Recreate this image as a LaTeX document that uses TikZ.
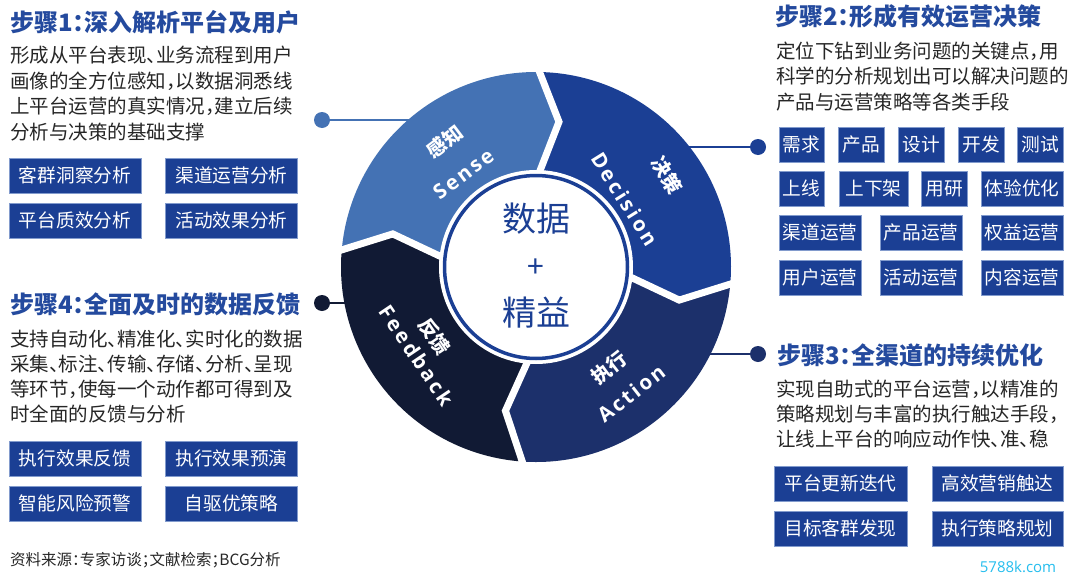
\documentclass[tikz,border=0pt]{standalone}
\usepackage{fontspec}
\setmainfont{Open Sans}
\newfontfamily\cjk{Noto Sans CJK SC}[RawFeature=+halt]
\newfontfamily\cjkfw{Noto Sans CJK SC}
\newfontfamily\ringlat{Open Sans}[LetterSpace=13]
\definecolor{sensec}{RGB}{68,114,180}
\definecolor{decisionc}{RGB}{27,63,148}
\definecolor{actionc}{RGB}{28,48,107}
\definecolor{feedbackc}{RGB}{17,26,52}
\definecolor{titlec}{RGB}{36,74,158}
\definecolor{bodyc}{RGB}{38,38,38}
\definecolor{boxc}{RGB}{27,63,148}
\definecolor{boxedge}{RGB}{130,155,205}
\definecolor{waterc}{RGB}{38,190,238}
\tikzset{
 titletext/.style={anchor=base west, inner sep=0pt, text=titlec, font=\cjk\bfseries\fontsize{24}{24}\selectfont},
 bodytext/.style={anchor=base west, inner sep=0pt, text=bodyc, font=\cjk\fontsize{19.5}{19.5}\selectfont},
 tagbox/.style={fill=boxc, draw=boxedge, line width=0.6pt, text=white, font=\cjk\fontsize{18.7}{18.7}\selectfont, minimum height=35pt, inner sep=0pt},
 dotnode/.style={circle, inner sep=0pt, minimum size=16pt},
 conn/.style={line width=1.8pt},
 ringcn/.style={text=white, font=\cjk\bfseries\fontsize{19.5}{19.5}\selectfont, inner sep=0pt},
 ringen/.style={text=white, font=\ringlat\bfseries\fontsize{20.5}{20.5}\selectfont, inner sep=0pt},
 centertext/.style={text=decisionc, font=\cjkfw\fontsize{34}{34}\selectfont, inner sep=0pt},
 gapline/.style={white, line width=7pt, line join=miter},
}
\begin{document}
\begin{tikzpicture}[x=1pt,y=-1pt]
\fill[white] (0,0) rectangle (1080,581);
\useasboundingbox (0,0) rectangle (1080,581);

% connectors
\node[dotnode, fill=sensec] (d1) at (322,120) {};
\node[dotnode, fill=decisionc] (d2) at (758,147) {};
\node[dotnode, fill=actionc] (d3) at (758,354) {};
\node[dotnode, fill=feedbackc] (d4) at (322,303) {};
\coordinate (e1) at (414,120);
\coordinate (e2) at (686,147);
\coordinate (e3) at (707,354);
\coordinate (e4) at (348,303);
\draw[conn, sensec] (d1) -- (e1);
\draw[conn, decisionc] (d2) -- (e2);
\draw[conn, actionc] (d3) -- (e3);
\draw[conn, feedbackc] (d4) -- (e4);

% ring
\begin{scope}[shift={(536,267)}, yscale=-1]
\fill[sensec] (176:195) arc[start angle=176, end angle=90, radius=195] -- (81:147) -- (90:95) arc[start angle=90, end angle=176, radius=95] -- (167:147) -- cycle;
\fill[decisionc] (90:195) arc[start angle=90, end angle=-4, radius=195] -- (-13:147) -- (-4:95) arc[start angle=-4, end angle=90, radius=95] -- (81:147) -- cycle;
\fill[actionc] (-4:195) arc[start angle=-4, end angle=-93, radius=195] -- (-102:147) -- (-93:95) arc[start angle=-93, end angle=-4, radius=95] -- (-13:147) -- cycle;
\fill[feedbackc] (-93:195) arc[start angle=-93, end angle=-184, radius=195] -- (-193:147) -- (-184:95) arc[start angle=-184, end angle=-93, radius=95] -- (-102:147) -- cycle;
\foreach \b in {90,-4,-93,176} \draw[gapline] (\b:204) -- ({\b-9}:147) -- (\b:86);
\fill[white] (0,0) circle[radius=97];
\draw[decisionc, line width=3.5pt] (0,0) circle[radius=91.5];
\node[ringcn, rotate=37] (senseCN) at (126:155) {感知};
\node[ringen, rotate=37] (senseEN) at (128:118) {Sense};
\node[ringcn, rotate=-58] (decCN) at (35:160) {决策};
\node[ringen, rotate=-58] (decEN) at (37.4:112) {Decision};
\node[ringcn, rotate=38] (actCN) at (-54:124) {执行};
\node[ringen, rotate=38] (actEN) at (-53:158) {Action};
\node[ringcn, rotate=-56] (fbCN) at (-145.5:123) {反馈};
\node[ringen, rotate=-56] (fbEN) at (-143.5:149) {Feedback};
\end{scope}
\node[centertext] (c1) at (536,219) {数据};
\node[centertext, font=\cjkfw\fontsize{30}{30}\selectfont] (c2) at (536,268) {+};
\node[centertext] (c3) at (536,313) {精益};

% step 1
\node[titletext] (t1) at (10,31.2) {步骤1：深入解析平台及用户};
\node[bodytext] (s1a) at (10,62.8) {形成从平台表现、业务流程到用户};
\node[bodytext] (s1b) at (10,88.3) {画像的全方位感知，以数据洞悉线};
\node[bodytext] (s1c) at (10,113.8) {上平台运营的真实情况，建立后续};
\node[bodytext] (s1d) at (10,139.3) {分析与决策的基础支撑};
\node[tagbox, minimum width=132pt] (b11) at (75,175.5) {客群洞察分析};
\node[tagbox, minimum width=132pt] (b12) at (231.5,175.5) {渠道运营分析};
\node[tagbox, minimum width=132pt] (b13) at (75,220.5) {平台质效分析};
\node[tagbox, minimum width=132pt] (b14) at (231.5,220.5) {活动效果分析};

% step 2
\node[titletext] (t2) at (775,25.7) {步骤2：形成有效运营决策};
\node[bodytext] (s2a) at (776,58.3) {定位下钻到业务问题的关键点，用};
\node[bodytext] (s2b) at (776,83.8) {科学的分析规划出可以解决问题的};
\node[bodytext] (s2c) at (776,109.3) {产品与运营策略等各类手段};
\node[tagbox, minimum width=45pt] (b21) at (801.5,144.5) {需求};
\node[tagbox, minimum width=46pt] (b22) at (861,144.5) {产品};
\node[tagbox, minimum width=46pt] (b23) at (921,144.5) {设计};
\node[tagbox, minimum width=46pt] (b24) at (981,144.5) {开发};
\node[tagbox, minimum width=46pt] (b25) at (1040,144.5) {测试};
\node[tagbox, minimum width=45pt] (b26) at (801.5,188.5) {上线};
\node[tagbox, minimum width=69pt] (b27) at (873.5,188.5) {上下架};
\node[tagbox, minimum width=46pt] (b28) at (944,188.5) {用研};
\node[tagbox, minimum width=82pt] (b29) at (1022,188.5) {体验优化};
\node[tagbox, minimum width=82pt] (b2a) at (820,232.5) {渠道运营};
\node[tagbox, minimum width=82pt] (b2b) at (921,232.5) {产品运营};
\node[tagbox, minimum width=82pt] (b2c) at (1022,232.5) {权益运营};
\node[tagbox, minimum width=82pt] (b2d) at (820,277.5) {用户运营};
\node[tagbox, minimum width=82pt] (b2e) at (921,277.5) {活动运营};
\node[tagbox, minimum width=82pt] (b2f) at (1022,277.5) {内容运营};

% step 3
\node[titletext] (t3) at (777,364.7) {步骤3：全渠道的持续优化};
\node[bodytext] (s3a) at (776,396.3) {实现自助式的平台运营，以精准的};
\node[bodytext] (s3b) at (776,421.3) {策略规划与丰富的执行触达手段，};
\node[bodytext] (s3c) at (776,446.3) {让线上平台的响应动作快、准、稳};
\node[tagbox, minimum width=133pt] (b31) at (840.5,483.5) {平台更新迭代};
\node[tagbox, minimum width=131pt] (b32) at (997.5,483.5) {高效营销触达};
\node[tagbox, minimum width=133pt] (b33) at (840.5,528.5) {目标客群发现};
\node[tagbox, minimum width=131pt] (b34) at (997.5,528.5) {执行策略规划};

% step 4
\node[titletext] (t4) at (10,313.7) {步骤4：全面及时的数据反馈};
\node[bodytext] (s4a) at (10,346.3) {支持自动化、精准化、实时化的数据};
\node[bodytext] (s4b) at (10,371.3) {采集、标注、传输、存储、分析、呈现};
\node[bodytext] (s4c) at (10,396.3) {等环节，使每一个动作都可得到及};
\node[bodytext] (s4d) at (10,421.3) {时全面的反馈与分析};
\node[tagbox, minimum width=132pt] (b41) at (75,458.5) {执行效果反馈};
\node[tagbox, minimum width=132pt] (b42) at (231.5,458.5) {执行效果预演};
\node[tagbox, minimum width=132pt] (b43) at (75,503.5) {智能风险预警};
\node[tagbox, minimum width=132pt] (b44) at (231.5,503.5) {自驱优策略};

% source and watermark
\node[bodytext, font=\cjk\fontsize{15.5}{15.5}\selectfont] (src) at (10,565.9) {资料来源：专家访谈；文献检索；BCG分析};
\node[inner sep=0pt, text=waterc, font=\fontsize{15}{15}\selectfont] (wm) at (1018,567) {5788k.com};
\end{tikzpicture}
\end{document}
